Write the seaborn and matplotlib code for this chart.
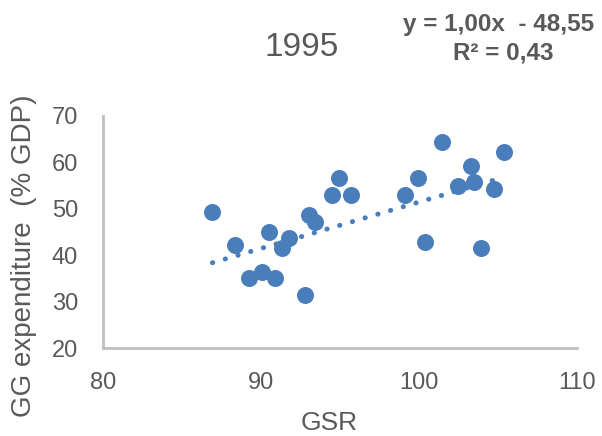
import matplotlib
matplotlib.use("Agg")
import matplotlib.pyplot as plt
import seaborn as sns
import numpy as np
import pandas as pd

gsr = [86.93, 88.37, 90.48, 89.26, 90.06, 90.90, 91.33, 91.75, 92.81, 93.02, 93.44,
       94.50, 94.92, 95.70, 99.10, 99.93, 101.43, 100.37, 102.47, 103.30, 103.50,
       103.95, 104.75, 105.40]
gg_exp = [49.3, 42.2, 45.1, 35.0, 36.4, 35.0, 41.5, 43.6, 31.4, 48.7, 47.2,
          53.0, 56.6, 53.0, 53.0, 56.6, 64.3, 42.9, 55.0, 59.3, 55.7,
          41.5, 54.3, 62.2]
slope = 1.00
intercept = -48.55
r2_text = "R² = 0,43"
eq_text = "y = 1,00x  - 48,55"
title = "1995"
xticks = [80, 90, 100, 110]
yticks = [20, 30, 40, 50, 60, 70]

df = pd.DataFrame({"GSR": gsr, "GG": gg_exp})

sns.set_theme(style="white")
plt.rcParams["font.family"] = ["Liberation Sans", "DejaVu Sans"]

fig = plt.figure(figsize=(6.02, 4.36), dpi=100)
ax = fig.add_axes([103/602, 1-348/436, (577-103)/602, (348-116)/436])

blue = "#4A7EBB"
gray = "#595959"

sns.scatterplot(data=df, x="GSR", y="GG", ax=ax, s=150, color=blue,
                edgecolor=blue, linewidth=0, zorder=3)

xs = np.linspace(min(gsr), max(gsr), 50)
ax.plot(xs, slope * xs + intercept, color=blue, lw=3.6,
        linestyle=(0, (0.05, 2.6)), dash_capstyle="round", zorder=2)

ax.set_xlim(80, 110)
ax.set_ylim(20, 70)
ax.set_xticks(xticks)
ax.set_yticks(yticks)
ax.tick_params(axis="both", labelsize=17, colors=gray, length=0)
ax.tick_params(axis="x", pad=17)
ax.tick_params(axis="y", pad=18)
ax.set_xlabel("")
ax.set_ylabel("")
for s in ["top", "right"]:
    ax.spines[s].set_visible(False)
for s in ["left", "bottom"]:
    ax.spines[s].set_color("#BFBFBF")
    ax.spines[s].set_linewidth(2)

fig.text(329/602, 1-423/436, "GSR", ha="center", va="center", fontsize=19, color=gray)
fig.text(24/602, 1-256/436, "GG expenditure  (% GDP)", ha="center", va="center",
         rotation=90, fontsize=20, color=gray)
fig.text(302/602, 1-47/436, title, ha="center", va="center", fontsize=24, color=gray)
fig.text(499/602, 1-25/436, eq_text, ha="center", va="center", fontsize=17.5,
         color=gray, fontweight="bold")
fig.text(503/602, 1-53/436, r2_text, ha="center", va="center", fontsize=17.5,
         color=gray, fontweight="bold")

fig.savefig("out.png", dpi=100)
